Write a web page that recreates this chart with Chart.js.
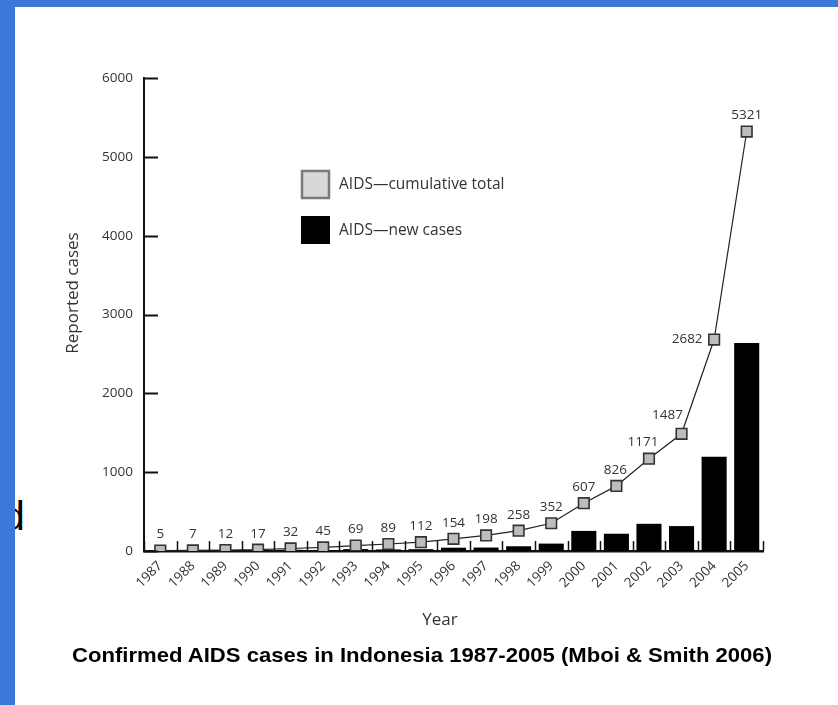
<!DOCTYPE html>
<html>
<head>
<meta charset="utf-8">
<script src="https://cdn.jsdelivr.net/npm/chart.js@4.4.1/dist/chart.umd.min.js"></script>
<style>
  html, body { margin: 0; padding: 0; background: #fff; }
  #page { position: relative; width: 838px; height: 705px; overflow: hidden; background: #fff; }
  #chartBox { position: absolute; left: 0; top: 0; width: 838px; height: 705px; }
  .blue { position: absolute; background: #3b78d8; z-index: 5; }
  #stray { position: absolute; left: 2px; top: 496px; font: 41px "Liberation Sans", Arial, sans-serif; color: #000; line-height: 1; }
  #caption { position: absolute; left: 0; top: 643px; white-space: nowrap;
    font: bold 21px "Liberation Sans", Arial, sans-serif; color: #000; transform-origin: 0 0; }
</style>
</head>
<body>
<div id="page">
  <div id="stray">d</div>
  <div id="chartBox"><canvas id="aids"></canvas></div>
  <div class="blue" style="left:0;top:0;width:838px;height:7px"></div>
  <div class="blue" style="left:0;top:0;width:15px;height:705px"></div>
  <div id="caption">Confirmed AIDS cases in Indonesia 1987-2005 (Mboi &amp; Smith 2006)</div>
</div>
<script>
const years = ["1987", "1988", "1989", "1990", "1991", "1992", "1993", "1994", "1995", "1996",
  "1997", "1998", "1999", "2000", "2001", "2002", "2003", "2004", "2005"]
const cumulativeTotal = [5, 7, 12, 17, 32, 45, 69, 89, 112, 154, 198, 258, 352, 607, 826, 1171, 1487, 2682, 5321]
const newCases = [5, 2, 5, 5, 15, 13, 24, 20, 23, 42, 44, 60, 94, 255, 219, 345, 316, 1195, 2639]
const yTicks = [0, 1000, 2000, 3000, 4000, 5000, 6000]

// label nudges for the crowded end of the line
const labelShift = { "2001": [-1, -16], "2002": [-6, -17], "2003": [-14, -19], "2004": [-27, 0] }

const font = "Open Sans"

// squeeze the caption to the width it has in the picture
const cap = document.getElementById("caption")
const capW = cap.getBoundingClientRect().width
cap.style.left = "72px"
cap.style.transform = "scaleX(" + (700 / capW) + ")"

const extras = {
  id: "extras",
  afterDraw(chart) {
    const ctx = chart.ctx
    const area = chart.chartArea
    const xs = chart.scales.x
    const ys = chart.scales.y
    ctx.save()
    ctx.strokeStyle = "#111"

    // inward ticks on the y axis
    ctx.lineWidth = 2
    yTicks.forEach(v => {
      const y = Math.round(ys.getPixelForValue(v)) + 0.5
      ctx.beginPath()
      ctx.moveTo(area.left, y)
      ctx.lineTo(area.left + 14, y)
      ctx.stroke()
    })

    // short ticks between categories on the x axis
    const half = (xs.getPixelForValue(1) - xs.getPixelForValue(0)) / 2
    ctx.lineWidth = 1.5
    for (let i = 0; i <= years.length; i++) {
      const x = Math.round(xs.getPixelForValue(i) - half) + 0.5
      ctx.beginPath()
      ctx.moveTo(x, area.bottom)
      ctx.lineTo(x, area.bottom - 10)
      ctx.stroke()
    }

    // value labels on the cumulative line
    const meta = chart.getDatasetMeta(0)
    ctx.fillStyle = "#333"
    ctx.font = "13.5px '" + font + "'"
    ctx.textAlign = "center"
    ctx.textBaseline = "middle"
    meta.data.forEach((pt, i) => {
      const s = labelShift[years[i]] || [0, -16]
      ctx.fillText(String(cumulativeTotal[i]), pt.x + s[0], pt.y + s[1])
    })

    // legend
    ctx.fillStyle = "#d8d8d8"
    ctx.fillRect(302, 171, 27, 27)
    ctx.strokeStyle = "#7a7a7a"
    ctx.lineWidth = 2.5
    ctx.strokeRect(302, 171, 27, 27)
    ctx.fillStyle = "#000"
    ctx.fillRect(301, 216, 29, 28)
    ctx.fillStyle = "#333"
    ctx.font = "15.5px '" + font + "'"
    ctx.textAlign = "left"
    ctx.fillText("AIDS\u2014cumulative total", 339, 185)
    ctx.fillText("AIDS\u2014new cases", 339, 231)

    // axis titles
    ctx.font = "17px '" + font + "'"
    ctx.textAlign = "center"
    ctx.fillText("Year", 440, 620)
    ctx.translate(73, 293)
    ctx.rotate(-Math.PI / 2)
    ctx.fillText("Reported cases", 0, 0)
    ctx.restore()
  }
}

new Chart(document.getElementById("aids"), {
  data: {
    labels: years,
    datasets: [
      {
        type: "line",
        label: "AIDS\u2014cumulative total",
        data: cumulativeTotal,
        order: 0,
        borderColor: "#222",
        borderWidth: 1.2,
        pointStyle: "rect",
        pointRadius: 7.5,
        pointBackgroundColor: "#bdbdbd",
        pointBorderColor: "#333",
        pointBorderWidth: 1.6,
        tension: 0
      },
      {
        type: "bar",
        label: "AIDS\u2014new cases",
        data: newCases,
        order: 1,
        backgroundColor: "#000",
        barPercentage: 0.77,
        categoryPercentage: 1.0
      }
    ]
  },
  plugins: [extras],
  options: {
    responsive: true,
    maintainAspectRatio: false,
    animation: false,
    layout: { padding: { left: 0, top: 78, right: 75, bottom: 0 } },
    plugins: {
      legend: { display: false },
      tooltip: { enabled: false }
    },
    scales: {
      x: {
        grid: { display: false, drawTicks: false },
        border: { display: true, color: "#111", width: 2.5 },
        afterFit(scale) { scale.height = 154 },
        ticks: {
          color: "#333",
          font: { family: font, size: 13.5 },
          maxRotation: 45,
          minRotation: 45,
          padding: 7
        }
      },
      y: {
        min: 0,
        max: 6000,
        grid: { display: false, drawTicks: false },
        border: { display: true, color: "#111", width: 2 },
        afterFit(scale) { scale.width = 144 },
        ticks: {
          stepSize: 1000,
          color: "#333",
          font: { family: font, size: 13.5 },
          padding: 11,
          callback: value => String(value)
        }
      }
    }
  }
})
</script>
</body>
</html>
